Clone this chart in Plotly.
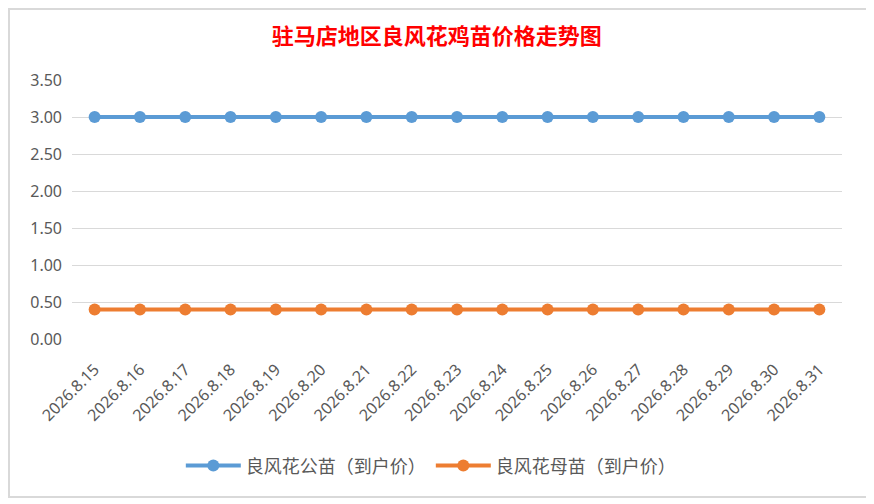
import plotly.graph_objects as go

dates = ["2026.8.%d" % d for d in range(15, 32)]
male_price = [3.0, 3.0, 3.0, 3.0, 3.0, 3.0, 3.0, 3.0, 3.0, 3.0, 3.0, 3.0, 3.0, 3.0, 3.0, 3.0, 3.0]
female_price = [0.4, 0.4, 0.4, 0.4, 0.4, 0.4, 0.4, 0.4, 0.4, 0.4, 0.4, 0.4, 0.4, 0.4, 0.4, 0.4, 0.4]
y_ticks = [0, 0.5, 1.0, 1.5, 2.0, 2.5, 3.0, 3.5]

fig = go.Figure()
fig.add_trace(go.Scatter(
    x=dates, y=male_price, name="良风花公苗（到户价）",
    mode="lines+markers",
    line=dict(color="#5B9BD5", width=4),
    marker=dict(size=12, color="#5B9BD5"),
))
fig.add_trace(go.Scatter(
    x=dates, y=female_price, name="良风花母苗（到户价）",
    mode="lines+markers",
    line=dict(color="#ED7D31", width=4),
    marker=dict(size=12, color="#ED7D31"),
))

# chart border (page has an 8px body margin, so the figure is 8px smaller)
fig.add_shape(type="rect", xref="paper", yref="paper",
              x0=-0.0818, x1=1.0325, y0=-0.610, y1=1.274,
              line=dict(color="#D9D9D9", width=2), layer="below")

fig.update_layout(
    width=866, height=496,
    margin=dict(l=64, r=32, t=72, b=165, autoexpand=False),
    paper_bgcolor="white", plot_bgcolor="white",
    title=dict(text="<b>驻马店地区良风花鸡苗价格走势图</b>", x=0.495, xanchor="center",
               xref="container", y=0.9435, yanchor="middle",
               font=dict(family="Noto Sans CJK SC", size=22, color="#FF0000")),
    xaxis=dict(type="category", range=[-0.5, 16.5], tickangle=-45,
               showgrid=False, showline=False, ticks="", ticklabelstandoff=17,
               tickfont=dict(family="Noto Sans", size=16, color="#595959")),
    yaxis=dict(range=[0, 3.5], tickvals=y_ticks, tickformat=".2f",
               gridcolor="#D9D9D9", gridwidth=1, zeroline=False, showline=False,
               ticks="", ticklabelstandoff=9,
               tickfont=dict(family="Noto Sans", size=16, color="#595959")),
    legend=dict(orientation="h", x=0.466, xanchor="center", y=-0.49, yanchor="middle",
                font=dict(family="Noto Sans CJK SC", size=18, color="#595959"),
                itemwidth=55),
    showlegend=True,
)

fig.write_html("out.html")
